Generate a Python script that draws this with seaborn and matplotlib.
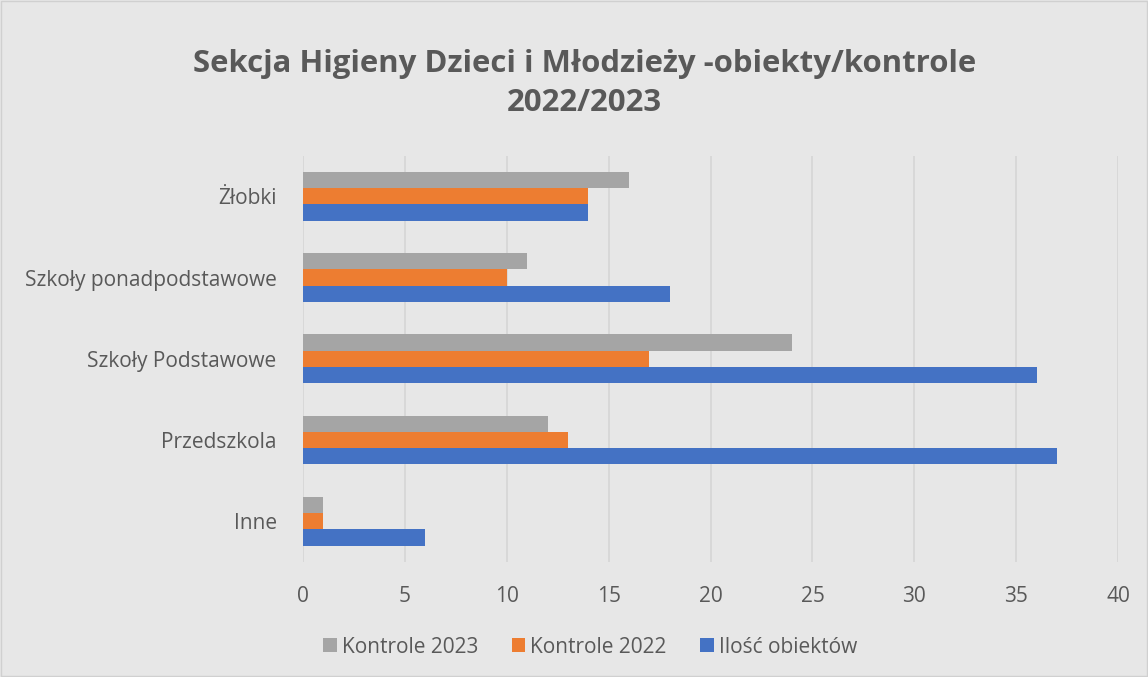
import matplotlib
matplotlib.use("Agg")
import matplotlib.pyplot as plt
import seaborn as sns
import pandas as pd

categories = ["Żłobki", "Szkoły ponadpodstawowe", "Szkoły Podstawowe", "Przedszkola", "Inne"]
series_names = ["Kontrole 2023", "Kontrole 2022", "Ilość obiektów"]
kontrole_2023 = [16, 11, 24, 12, 1]
kontrole_2022 = [14, 10, 17, 13, 1]
ilosc_obiektow = [14, 18, 36, 37, 6]
x_ticks = [0, 5, 10, 15, 20, 25, 30, 35, 40]
colors = ["#A5A5A5", "#ED7D31", "#4472C4"]

rows = []
for name, vals in zip(series_names, [kontrole_2023, kontrole_2022, ilosc_obiektow]):
    for c, v in zip(categories, vals):
        rows.append({"Kategoria": c, "Seria": name, "Wartość": v})
df = pd.DataFrame(rows)

sns.set_theme(style="white")
plt.rcParams['font.family'] = ['Open Sans', 'DejaVu Sans']
BG = "#E7E7E7"
TXT = "#595959"

fig = plt.figure(figsize=(11.48, 6.77), dpi=100, facecolor=BG)
ax = fig.add_axes([0.264, 0.170, 0.710, 0.600])
ax.set_facecolor(BG)

sns.barplot(data=df, y="Kategoria", x="Wartość", hue="Seria", order=categories,
            hue_order=series_names, palette=colors, orient="h", width=0.6,
            saturation=1, ax=ax, legend=True, linewidth=0)

ax.set_xlim(0, 40)
ax.set_xticks(x_ticks)
ax.xaxis.grid(True, color="#D5D5D5", linewidth=1.2)
ax.set_axisbelow(True)
for s in ax.spines.values():
    s.set_visible(False)
ax.set_xlabel("")
ax.set_ylabel("")
ax.tick_params(axis="both", length=0, labelsize=15, labelcolor=TXT)
ax.tick_params(axis="x", pad=17)
ax.tick_params(axis="y", pad=19)

ax.legend_.remove()
handles, labels = ax.get_legend_handles_labels()
fig.legend(handles, labels, loc="center", bbox_to_anchor=(0.514, 0.044), ncol=3,
           frameon=False, fontsize=15, labelcolor=TXT, handlelength=0.65,
           handleheight=0.65, handletextpad=0.25, columnspacing=1.6)

fig.text(0.509, 0.906, "Sekcja Higieny Dzieci i Młodzieży -obiekty/kontrole", ha="center",
         va="center", fontsize=22.4, fontweight="bold", color=TXT)
fig.text(0.509, 0.848, "2022/2023", ha="center", va="center", fontsize=22.4,
         fontweight="bold", color=TXT)

fig.patches.append(plt.Rectangle((0.0005, 0.0008), 0.999, 0.998, transform=fig.transFigure,
                                 fill=False, edgecolor="#D0D0D0", linewidth=1))

fig.savefig("out.png", dpi=100, facecolor=BG)
